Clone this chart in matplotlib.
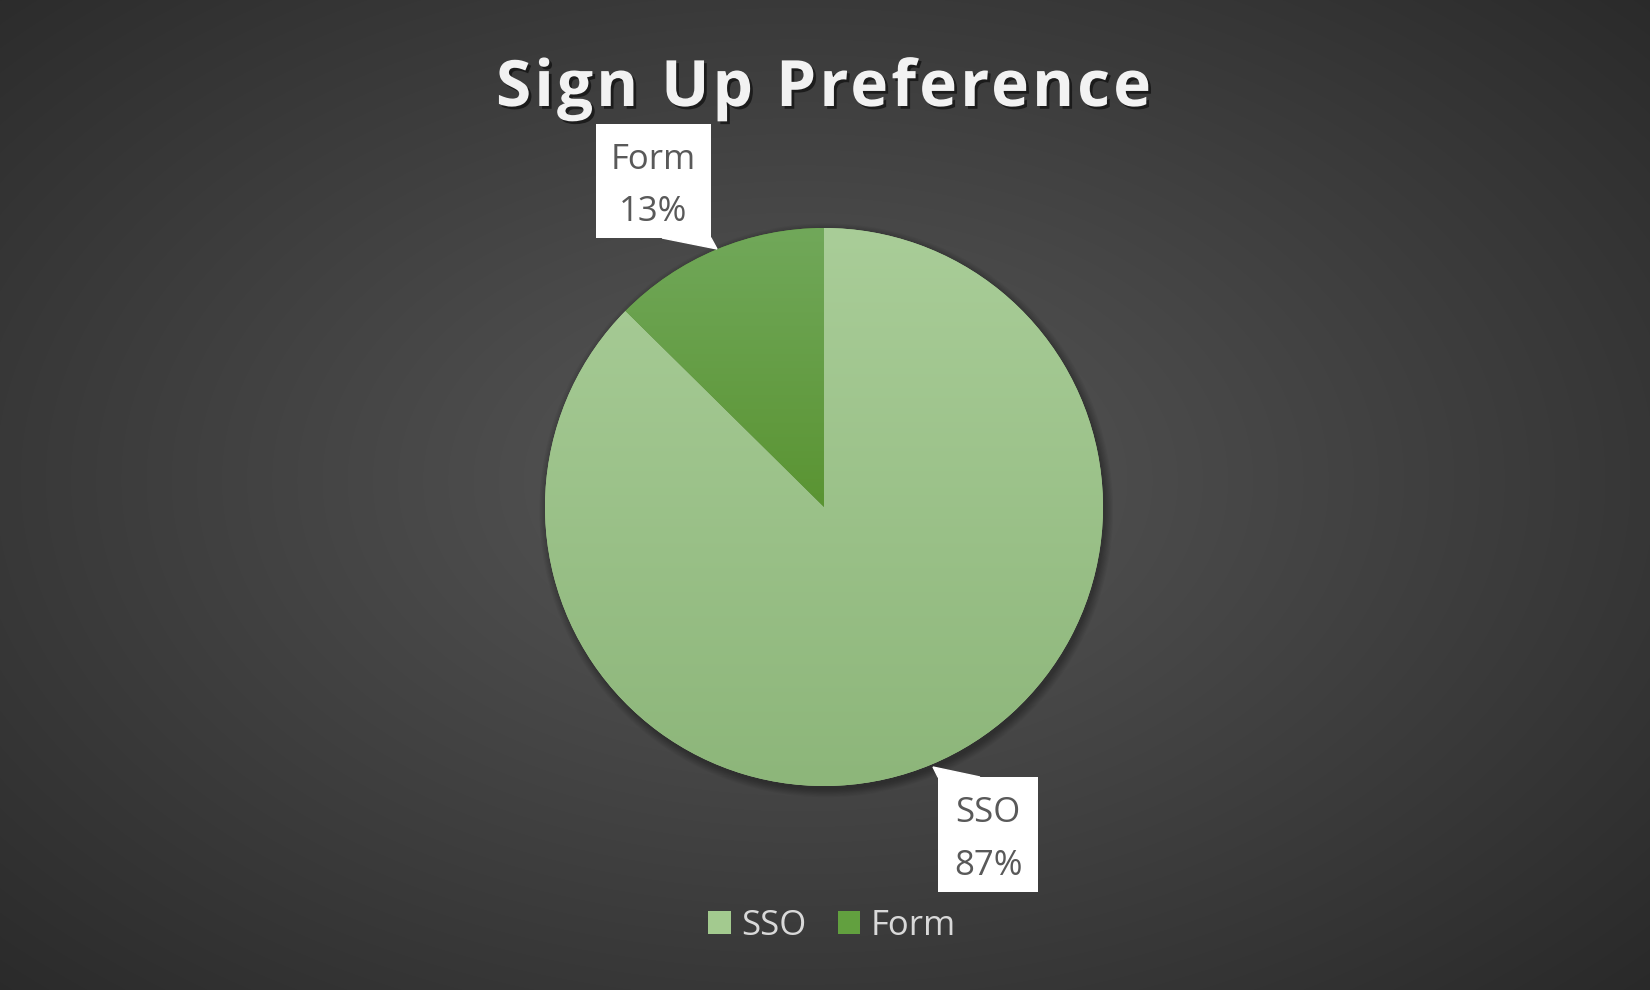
import numpy as np
import matplotlib.pyplot as plt
from matplotlib import patheffects as pe
from matplotlib.colors import LinearSegmentedColormap
from matplotlib.patches import Rectangle, Circle, Polygon
from matplotlib.font_manager import FontProperties

# data
labels = ['SSO', 'Form']
shares = [87.4, 12.6]
title = 'Sign Up Preference'

# slice colours (top, bottom of the gradient) and flat legend colour
top_cols = ['#a9cd98', '#71a85a']
bot_cols = ['#8db67a', '#5a9432']
flat_cols = ['#a3ca8f', '#62a03f']

W, H = 1650, 990
fig = plt.figure(figsize=(16.5, 9.9), dpi=100)

# radial background
bg = fig.add_axes([0, 0, 1, 1], zorder=0)
yy, xx = np.mgrid[0:H, 0:W]
d = np.sqrt(((xx - 800) / 830.0) ** 2 + ((yy - 480) / 520.0) ** 2)
g = np.clip(88 - 33 * d, 38, 90) / 255.0
bg.imshow(np.dstack([g, g, g]), extent=[0, W, H, 0], aspect='auto')
bg.set_xlim(0, W); bg.set_ylim(H, 0)
bg.axis('off')

# pie
cx, cy, r = 824, 507, 279
lim = 1.05
half = r * lim
ax = fig.add_axes([(cx - half) / W, (H - cy - half) / H, 2 * half / W, 2 * half / H], zorder=1)
ax.patch.set_visible(False)

# soft shadow
for k in range(8):
    ax.add_patch(Circle((0.008, -0.012), 1.0 + 0.004 * k, color='black',
                        alpha=0.04, lw=0, zorder=0))

wedges, _ = ax.pie(shares, startangle=90, counterclock=False, colors=flat_cols,
                   radius=1, wedgeprops=dict(linewidth=0))

for w, c_top, c_bot in zip(wedges, top_cols, bot_cols):
    th = np.radians(np.linspace(w.theta1, w.theta2, 200))
    ys = np.concatenate([np.sin(th), [0]])
    cmap = LinearSegmentedColormap.from_list('', [c_bot, c_top])
    grad = np.linspace(0, 1, 256).reshape(-1, 1)
    im = ax.imshow(grad, extent=[-1, 1, ys.min(), ys.max()], cmap=cmap,
                   origin='lower', aspect='auto', zorder=2)
    im.set_clip_path(w)

ax.set_xlim(-lim, lim); ax.set_ylim(-lim, lim)
ax.axis('off')

# overlay in pixel coords
ov = fig.add_axes([0, 0, 1, 1], zorder=3)
ov.patch.set_visible(False)
ov.set_xlim(0, W); ov.set_ylim(H, 0)
ov.axis('off')

# title, letter by letter with tracking
tfont = dict(family='Open Sans', weight='bold', size=46)
renderer = fig.canvas.get_renderer()
fp = FontProperties(**tfont)
def tw(s):
    return renderer.get_text_width_height_descent(s, fp, ismath=False)[0]
full_w = tw(title)
track = (655 - full_w) / (len(title) - 1)
x0 = 496
shadow = [pe.SimplePatchShadow(offset=(2, -2), shadow_rgbFace='black', alpha=0.55), pe.Normal()]
for i, ch in enumerate(title):
    if ch == ' ':
        continue
    start = tw(title[:i + 1]) - tw(ch)
    ov.text(x0 + start + i * track, 106, ch, color='#f2f2f2', ha='left', va='baseline',
            path_effects=shadow, **tfont)

# data labels
boxes = {'Form': (596, 124, 115, 114), 'SSO': (938, 777, 100, 115)}
leaders = {'Form': [(662, 238), (711, 238), (717, 249)],
           'SSO': [(933, 767), (938, 777), (980, 777)]}
for lab, val in zip(labels, shares):
    bx, by, bw, bh = boxes[lab]
    ov.add_patch(Polygon(leaders[lab], closed=True, fc='white', ec='white', lw=1))
    ov.add_patch(Rectangle((bx, by), bw, bh, fc='white', ec='none'))
    ov.text(bx + bw / 2, by + bh / 2 + 5, f'{lab}\n{round(val)}%', ha='center', va='center',
            color='#595959', family='Open Sans', size=25, linespacing=1.7)

# legend
handles = [Rectangle((0, 0), 1, 1, fc=c, ec='none') for c in flat_cols]
leg = ov.legend(handles, labels, loc='center', bbox_to_anchor=(832 / W, 1 - 926 / H),
                bbox_transform=fig.transFigure, ncol=2, frameon=False,
                prop=dict(family='Open Sans', size=25), labelcolor='#d9d9d9',
                handlelength=0.64, handleheight=0.64, handletextpad=0.3,
                columnspacing=0.9)

fig.savefig('out.png', dpi=100)
